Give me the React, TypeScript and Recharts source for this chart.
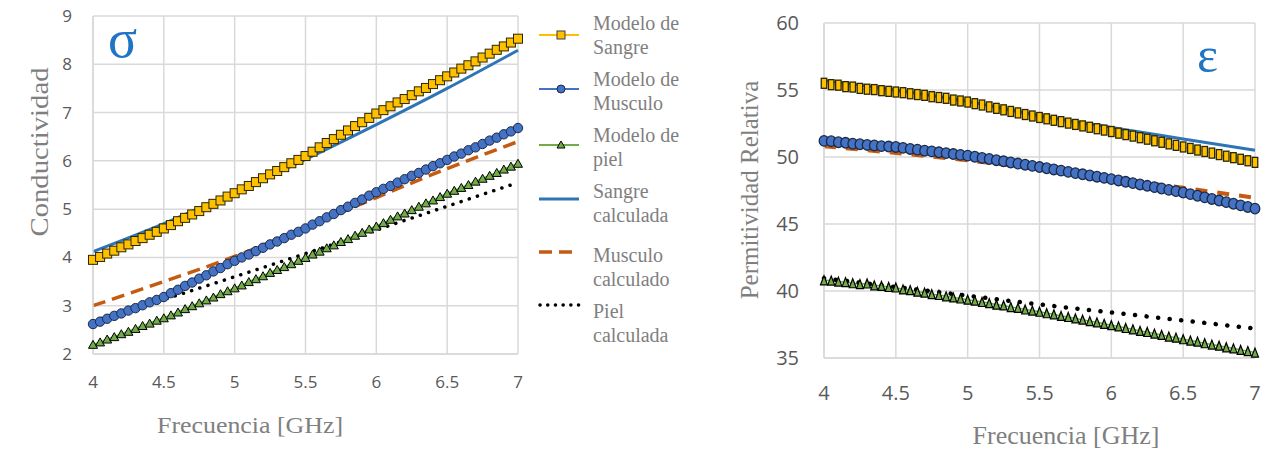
import React from 'react';
import { LineChart, Line, XAxis, YAxis, CartesianGrid } from 'recharts';

// ---------- DATA ----------
const freq = [
  4.0, 4.05, 4.1, 4.15, 4.2, 4.25, 4.3, 4.35, 4.4, 4.45,
  4.5, 4.55, 4.6, 4.65, 4.7, 4.75, 4.8, 4.85, 4.9, 4.95,
  5.0, 5.05, 5.1, 5.15, 5.2, 5.25, 5.3, 5.35, 5.4, 5.45,
  5.5, 5.55, 5.6, 5.65, 5.7, 5.75, 5.8, 5.85, 5.9, 5.95,
  6.0, 6.05, 6.1, 6.15, 6.2, 6.25, 6.3, 6.35, 6.4, 6.45,
  6.5, 6.55, 6.6, 6.65, 6.7, 6.75, 6.8, 6.85, 6.9, 6.95,
  7.0,
];
const calcFreq = [4, 4.5, 5, 5.5, 6, 6.5, 7];
const xTicks = [4, 4.5, 5, 5.5, 6, 6.5, 7];
const sigmaTicks = [2, 3, 4, 5, 6, 7, 8, 9];
const epsTicks = [35, 40, 45, 50, 55, 60];

// Conductividad (sigma)
const sigmaSangreModelo = [
  3.95, 4.01, 4.08, 4.14, 4.21, 4.27, 4.34, 4.40, 4.47, 4.53,
  4.60, 4.67, 4.75, 4.82, 4.89, 4.96, 5.04, 5.11, 5.18, 5.26,
  5.33, 5.41, 5.48, 5.56, 5.64, 5.72, 5.79, 5.87, 5.95, 6.02,
  6.10, 6.19, 6.28, 6.37, 6.45, 6.54, 6.63, 6.72, 6.80, 6.89,
  6.98, 7.05, 7.13, 7.21, 7.28, 7.36, 7.44, 7.51, 7.59, 7.67,
  7.75, 7.83, 7.91, 7.98, 8.06, 8.14, 8.22, 8.30, 8.37, 8.45,
  8.53,
];
const sigmaMusculoModelo = [
  2.62, 2.67, 2.73, 2.79, 2.84, 2.90, 2.95, 3.01, 3.07, 3.12,
  3.18, 3.26, 3.33, 3.41, 3.48, 3.56, 3.63, 3.71, 3.78, 3.86,
  3.93, 4.00, 4.06, 4.13, 4.20, 4.27, 4.33, 4.40, 4.47, 4.53,
  4.60, 4.68, 4.75, 4.83, 4.90, 4.98, 5.05, 5.13, 5.20, 5.28,
  5.35, 5.42, 5.48, 5.55, 5.62, 5.69, 5.75, 5.82, 5.89, 5.95,
  6.02, 6.09, 6.15, 6.22, 6.28, 6.35, 6.42, 6.48, 6.55, 6.61,
  6.68,
];
const sigmaPielModelo = [
  2.20, 2.25, 2.31, 2.36, 2.42, 2.47, 2.53, 2.59, 2.64, 2.70,
  2.75, 2.81, 2.87, 2.94, 3.00, 3.06, 3.12, 3.18, 3.25, 3.31,
  3.37, 3.43, 3.50, 3.56, 3.62, 3.69, 3.75, 3.81, 3.87, 3.94,
  4.00, 4.07, 4.13, 4.20, 4.26, 4.33, 4.39, 4.46, 4.52, 4.59,
  4.65, 4.72, 4.79, 4.86, 4.92, 4.99, 5.06, 5.13, 5.19, 5.26,
  5.33, 5.39, 5.45, 5.51, 5.58, 5.64, 5.70, 5.76, 5.83, 5.89,
  5.95,
];
const sigmaSangreCalc = [4.12, 4.7, 5.35, 6.03, 6.75, 7.5, 8.29];
const sigmaMusculoCalc = [3.0, 3.5, 4.02, 4.62, 5.24, 5.84, 6.4];
const sigmaPielCalc = [2.68, 3.13, 3.6, 4.08, 4.57, 5.06, 5.55];

// Permitividad relativa (epsilon)
const epsSangreModelo = [
  55.50, 55.40, 55.36, 55.25, 55.22, 55.12, 55.06, 55.03, 54.95, 54.90,
  54.85, 54.80, 54.72, 54.66, 54.60, 54.50, 54.44, 54.38, 54.25, 54.18,
  54.10, 53.98, 53.88, 53.74, 53.63, 53.52, 53.40, 53.29, 53.17, 53.06,
  52.95, 52.85, 52.74, 52.64, 52.53, 52.43, 52.32, 52.22, 52.11, 52.01,
  51.90, 51.78, 51.67, 51.56, 51.44, 51.33, 51.21, 51.10, 50.98, 50.87,
  50.75, 50.64, 50.52, 50.41, 50.29, 50.18, 50.06, 49.95, 49.83, 49.72,
  49.60,
];
const epsMusculoModelo = [
  51.20, 51.18, 51.10, 51.06, 50.99, 50.95, 50.90, 50.86, 50.81, 50.78,
  50.75, 50.68, 50.60, 50.55, 50.47, 50.42, 50.35, 50.29, 50.22, 50.16,
  50.10, 50.02, 49.93, 49.85, 49.76, 49.68, 49.59, 49.51, 49.42, 49.34,
  49.25, 49.16, 49.07, 48.98, 48.89, 48.80, 48.71, 48.62, 48.53, 48.44,
  48.35, 48.25, 48.15, 48.05, 47.95, 47.85, 47.75, 47.65, 47.55, 47.45,
  47.35, 47.23, 47.11, 46.99, 46.87, 46.75, 46.63, 46.51, 46.39, 46.27,
  46.15,
];
const epsPielModelo = [
  40.80, 40.78, 40.70, 40.66, 40.58, 40.52, 40.56, 40.42, 40.38, 40.30,
  40.26, 40.12, 40.06, 39.95, 39.88, 39.76, 39.70, 39.60, 39.52, 39.44,
  39.35, 39.28, 39.18, 39.10, 38.98, 38.92, 38.80, 38.74, 38.62, 38.54,
  38.45, 38.34, 38.26, 38.14, 38.06, 37.95, 37.86, 37.75, 37.66, 37.55,
  37.45, 37.36, 37.24, 37.14, 37.02, 36.94, 36.82, 36.72, 36.60, 36.52,
  36.40, 36.30, 36.22, 36.10, 36.00, 35.92, 35.80, 35.72, 35.60, 35.52,
  35.40,
];
const epsSangreCalc = [55.7, 55.0, 54.15, 53.1, 52.2, 51.35, 50.5];
const epsMusculoCalc = [50.8, 50.3, 49.75, 49.1, 48.4, 47.7, 46.95];
const epsPielCalc = [40.95, 40.3, 39.65, 39.0, 38.4, 37.8, 37.2];

const legendLabels = [
  ['Modelo de', 'Sangre'],
  ['Modelo de', 'Musculo'],
  ['Modelo de', 'piel'],
  ['Sangre', 'calculada'],
  ['Musculo', 'calculado'],
  ['Piel', 'calculada'],
];

// ---------- HELPERS ----------
function buildRows(sm: number[], mm: number[], pm: number[], sc: number[], mc: number[], pc: number[]) {
  return freq.map((f, i) => {
    const j = calcFreq.findIndex((c) => Math.abs(c - f) < 1e-6);
    return {
      f,
      sm: sm[i],
      mm: mm[i],
      pm: pm[i],
      sc: j >= 0 ? sc[j] : null,
      mc: j >= 0 ? mc[j] : null,
      pc: j >= 0 ? pc[j] : null,
    };
  });
}

const sigmaRows = buildRows(sigmaSangreModelo, sigmaMusculoModelo, sigmaPielModelo, sigmaSangreCalc, sigmaMusculoCalc, sigmaPielCalc);
const epsRows = buildRows(epsSangreModelo, epsMusculoModelo, epsPielModelo, epsSangreCalc, epsMusculoCalc, epsPielCalc);

const YELLOW = '#FFC000';
const BLUE_M = '#4472C4';
const GREEN = '#70AD47';
const BLUE_L = '#2E75B6';
const BROWN = '#C55A11';
const GRID = '#d9d9d9';
const TICK = '#595959';
const TITLE = '#7f7f7f';
const SERIF = '"Liberation Serif", "Times New Roman", serif';
const SANS = '"Open Sans", "Noto Sans", sans-serif';

const squareDot = (w: number, h: number, sw: number) => (p: any) => {
  const { cx, cy, index } = p;
  if (cx == null || cy == null) return <g key={`sq${index}`} />;
  return <rect key={`sq${index}`} x={cx - w / 2} y={cy - h / 2} width={w} height={h} fill={YELLOW} stroke="#2b2600" strokeWidth={sw} />;
};
const circleDot = (rx: number, ry: number, sw: number) => (p: any) => {
  const { cx, cy, index } = p;
  if (cx == null || cy == null) return <g key={`ci${index}`} />;
  return <ellipse key={`ci${index}`} cx={cx} cy={cy} rx={rx} ry={ry} fill={BLUE_M} stroke="#1b2a48" strokeWidth={sw} />;
};
const triDot = (w: number, h: number, sw: number) => (p: any) => {
  const { cx, cy, index } = p;
  if (cx == null || cy == null) return <g key={`tr${index}`} />;
  const pts = `${cx},${cy - h / 2} ${cx + w / 2},${cy + h / 2} ${cx - w / 2},${cy + h / 2}`;
  return <polygon key={`tr${index}`} points={pts} fill={GREEN} stroke="#000" strokeWidth={sw} />;
};

const fmt = (v: number) => String(v);

// ---------- CHARTS ----------
function SigmaChart() {
  return (
    <LineChart width={530} height={468} data={sigmaRows} margin={{ top: 16, right: 12, bottom: 0, left: 0 }}>
      <CartesianGrid stroke={GRID} strokeWidth={1.5} />
      <XAxis
        dataKey="f"
        type="number"
        domain={[4, 7]}
        ticks={xTicks}
        tickFormatter={fmt}
        height={114}
        tickSize={0}
        tickMargin={22}
        axisLine={{ stroke: GRID, strokeWidth: 1.5 }}
        tick={{ fill: TICK, fontSize: 17, fontFamily: SANS }}
      />
      <YAxis
        type="number"
        domain={[2, 9]}
        ticks={sigmaTicks}
        width={93}
        tickSize={0}
        tickMargin={21}
        axisLine={{ stroke: GRID, strokeWidth: 1.5 }}
        tick={{ fill: TICK, fontSize: 17, fontFamily: SANS }}
      />
      <Line dataKey="sm" stroke={YELLOW} strokeWidth={1.5} dot={squareDot(9, 9, 1)} activeDot={false} isAnimationActive={false} />
      <Line dataKey="mm" stroke={BLUE_M} strokeWidth={1.5} dot={circleDot(4.7, 4.7, 1)} activeDot={false} isAnimationActive={false} />
      <Line dataKey="pm" stroke={GREEN} strokeWidth={1.5} dot={triDot(9, 8, 1)} activeDot={false} isAnimationActive={false} />
      <Line dataKey="sc" type="monotone" connectNulls stroke={BLUE_L} strokeWidth={3} dot={false} activeDot={false} isAnimationActive={false} />
      <Line dataKey="mc" type="monotone" connectNulls stroke={BROWN} strokeWidth={3.5} strokeDasharray="13 7" dot={false} activeDot={false} isAnimationActive={false} />
      <Line dataKey="pc" type="monotone" connectNulls stroke="#000" strokeWidth={3.5} strokeLinecap="round" strokeDasharray="0.1 8.5" dot={false} activeDot={false} isAnimationActive={false} />
    </LineChart>
  );
}

function EpsChart() {
  return (
    <LineChart width={564} height={468} data={epsRows} margin={{ top: 23, right: 9, bottom: 0, left: 0 }}>
      <CartesianGrid stroke={GRID} strokeWidth={1.5} />
      <XAxis
        dataKey="f"
        type="number"
        domain={[4, 7]}
        ticks={xTicks}
        tickFormatter={fmt}
        height={110}
        tickSize={0}
        tickMargin={28}
        axisLine={{ stroke: GRID, strokeWidth: 1.5 }}
        tick={{ fill: TICK, fontSize: 20, fontFamily: SANS }}
      />
      <YAxis
        type="number"
        domain={[35, 60]}
        ticks={epsTicks}
        width={124}
        tickSize={0}
        tickMargin={25}
        axisLine={{ stroke: GRID, strokeWidth: 1.5 }}
        tick={{ fill: TICK, fontSize: 20, fontFamily: SANS }}
      />
      <Line dataKey="sm" stroke={YELLOW} strokeWidth={1.5} dot={squareDot(5.5, 10, 1.3)} activeDot={false} isAnimationActive={false} />
      <Line dataKey="mm" stroke={BLUE_M} strokeWidth={1.5} dot={circleDot(4.8, 5.3, 1.3)} activeDot={false} isAnimationActive={false} />
      <Line dataKey="pm" stroke={GREEN} strokeWidth={1.5} dot={triDot(7, 9, 1.2)} activeDot={false} isAnimationActive={false} />
      <Line dataKey="sc" type="monotone" connectNulls stroke={BLUE_L} strokeWidth={3} dot={false} activeDot={false} isAnimationActive={false} />
      <Line dataKey="mc" type="monotone" connectNulls stroke={BROWN} strokeWidth={4} strokeDasharray="12 10" dot={false} activeDot={false} isAnimationActive={false} />
      <Line dataKey="pc" type="monotone" connectNulls stroke="#000" strokeWidth={4.5} strokeLinecap="round" strokeDasharray="0.1 11.5" dot={false} activeDot={false} isAnimationActive={false} />
    </LineChart>
  );
}

function LegendIcon({ i, y }: { i: number; y: number }) {
  const x1 = 539;
  const x2 = 579;
  const cx = 561;
  if (i === 0)
    return (
      <g>
        <line x1={x1} x2={x2} y1={y} y2={y} stroke={YELLOW} strokeWidth={2} />
        <rect x={cx - 4} y={y - 4} width={8} height={8} fill={YELLOW} stroke="#404040" strokeWidth={1} />
      </g>
    );
  if (i === 1)
    return (
      <g>
        <line x1={x1} x2={x2} y1={y} y2={y} stroke={BLUE_M} strokeWidth={2} />
        <circle cx={cx} cy={y} r={4} fill={BLUE_M} stroke="#1b2a48" strokeWidth={1} />
      </g>
    );
  if (i === 2)
    return (
      <g>
        <line x1={x1} x2={x2} y1={y} y2={y} stroke={GREEN} strokeWidth={2} />
        <polygon points={`${cx},${y - 4} ${cx + 4},${y + 3} ${cx - 4},${y + 3}`} fill={GREEN} stroke="#000" strokeWidth={1} />
      </g>
    );
  if (i === 3) return <line x1={x1} x2={x2} y1={y} y2={y} stroke={BLUE_L} strokeWidth={3} />;
  if (i === 4) return <line x1={x1} x2={x2} y1={y} y2={y} stroke={BROWN} strokeWidth={3.5} strokeDasharray="13 7" />;
  return <line x1={x1 + 1} x2={x2} y1={y} y2={y} stroke="#000" strokeWidth={3.5} strokeLinecap="round" strokeDasharray="0.1 7.6" />;
}

const legendIconY = [35, 89, 145, 199, 252, 305];
const legendTextY = [30, 86, 142, 198, 262, 318];

function Overlay() {
  return (
    <svg width={1264} height={468} style={{ position: 'absolute', left: 0, top: 0, pointerEvents: 'none' }}>
      {/* symbols */}
      <text x={108} y={57} fontSize={54} fill="#1f74c4" fontFamily={SERIF}>σ</text>
      <text x={1197} y={72} fontSize={50} fill="#1f74c4" fontFamily={SERIF}>ε</text>
      {/* axis titles */}
      <text x={250} y={433} fontSize={24} fill={TITLE} fontFamily={SERIF} textAnchor="middle" textLength={186} lengthAdjust="spacingAndGlyphs">
        Frecuencia [GHz]
      </text>
      <text x={48} y={152} fontSize={26} fill={TITLE} fontFamily={SERIF} textAnchor="middle" transform="rotate(-90 48 152)" textLength={169} lengthAdjust="spacingAndGlyphs">
        Conductividad
      </text>
      <text x={1066} y={444} fontSize={26} fill={TITLE} fontFamily={SERIF} textAnchor="middle">
        Frecuencia [GHz]
      </text>
      <text x={758} y={190} fontSize={25} fill={TITLE} fontFamily={SERIF} textAnchor="middle" transform="rotate(-90 758 190)">
        Permitividad Relativa
      </text>
      {/* legend */}
      {legendLabels.map((lbl, i) => (
        <g key={i}>
          <LegendIcon i={i} y={legendIconY[i]} />
          <text x={593} y={legendTextY[i]} fontSize={20} fill={TITLE} fontFamily={SERIF}>{lbl[0]}</text>
          <text x={593} y={legendTextY[i] + 24} fontSize={20} fill={TITLE} fontFamily={SERIF}>{lbl[1]}</text>
        </g>
      ))}
    </svg>
  );
}

export default function App() {
  return (
    <div style={{ position: 'absolute', left: 0, top: 0, width: 1264, height: 468, background: '#fff', overflow: 'hidden' }}>
      <div style={{ position: 'absolute', left: 0, top: 0 }}>
        <SigmaChart />
      </div>
      <div style={{ position: 'absolute', left: 700, top: 0 }}>
        <EpsChart />
      </div>
      <Overlay />
    </div>
  );
}
